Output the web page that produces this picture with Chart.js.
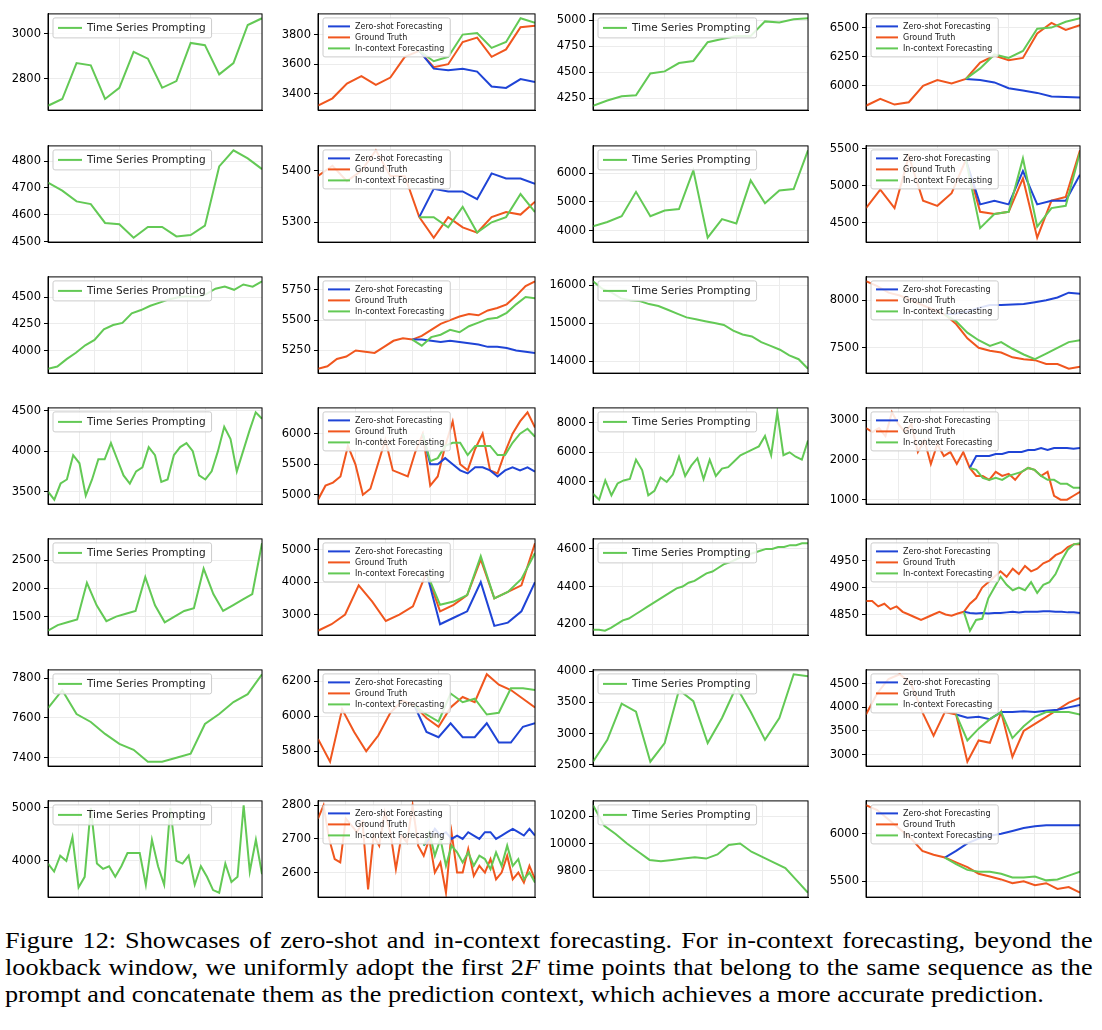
<!DOCTYPE html>
<html>
<head>
<meta charset="utf-8">
<script src="https://cdn.jsdelivr.net/npm/chart.js@4"></script>
<style>
  body { margin: 0; background: #fff; width: 1102px; height: 1030px; position: relative; overflow: hidden; }
  canvas { position: absolute; }
  #caption { position: absolute; left: 5px; top: 927px; width: 954px; font-family: "Liberation Serif", serif; font-size: 23px; line-height: 27px; color: #000; transform: scaleX(1.14); transform-origin: 0 0; }
  #caption div { text-align: justify; text-align-last: justify; white-space: nowrap; }
  #caption div.last { text-align-last: left; }
</style>
</head>
<body>
<div id="charts"></div>
<div id="caption">
  <div>Figure 12: Showcases of zero-shot and in-context forecasting. For in-context forecasting, beyond the</div>
  <div>lookback window, we uniformly adopt the first 2<i>F</i> time points that belong to the same sequence as the</div>
  <div class="last">prompt and concatenate them as the prediction context, which achieves a more accurate prediction.</div>
</div>
<script>
// ---- data: prompting panels (single green series) ----
const r1c1 = [2680, 2710, 2870, 2860, 2710, 2760, 2920, 2890, 2760, 2790, 2960, 2950, 2820, 2870, 3040, 3070];
const r1c3 = [4180, 4230, 4270, 4280, 4490, 4510, 4590, 4610, 4790, 4820, 4850, 4850, 4990, 4980, 5010, 5020];
const r2c1 = [4720, 4690, 4650, 4640, 4570, 4565, 4515, 4555, 4555, 4520, 4525, 4560, 4780, 4840, 4810, 4770];
const r2c3 = [4150, 4300, 4500, 5350, 4500, 4700, 4750, 6100, 3750, 4400, 4250, 5750, 4950, 5400, 5450, 6800];
const r3c1 = [3830, 3850, 3920, 3980, 4050, 4100, 4200, 4240, 4260, 4350, 4380, 4420, 4450, 4480, 4500, 4510, 4500, 4530, 4580, 4600, 4570, 4620, 4600, 4650];
const r3c3 = [16100, 15900, 15800, 15650, 15600, 15580, 15500, 15450, 15350, 15250, 15150, 15100, 15050, 15000, 14950, 14800, 14700, 14650, 14500, 14400, 14300, 14150, 14050, 13800];
const r4c1 = [3500, 3400, 3600, 3650, 3950, 3850, 3450, 3650, 3900, 3900, 4100, 3900, 3700, 3600, 3750, 3800, 4050, 3950, 3620, 3650, 3950, 4050, 4100, 4000, 3700, 3650, 3750, 4000, 4300, 4150, 3750, 4000, 4250, 4480, 4400];
const r4c3 = [3200, 2800, 4100, 3100, 3900, 4100, 4200, 5500, 4800, 3100, 3400, 4300, 4000, 4500, 5700, 4400, 5100, 5600, 4200, 5500, 4400, 4900, 5000, 5400, 5800, 6000, 6200, 6400, 7100, 5800, 8700, 5800, 6000, 5700, 5500, 6800];
const r5c1 = [1250, 1350, 1400, 1450, 2100, 1700, 1420, 1500, 1550, 1600, 2200, 1700, 1400, 1500, 1600, 1650, 2350, 1900, 1600, 1700, 1800, 1900, 2800];
const r5c3 = [4170, 4170, 4165, 4180, 4200, 4220, 4230, 4250, 4270, 4290, 4310, 4330, 4350, 4370, 4390, 4400, 4420, 4430, 4450, 4470, 4480, 4500, 4520, 4530, 4545, 4560, 4570, 4580, 4590, 4600, 4600, 4610, 4610, 4620, 4620, 4630, 4630];
const r6c1 = [7650, 7740, 7620, 7580, 7520, 7470, 7440, 7380, 7380, 7400, 7420, 7570, 7620, 7680, 7720, 7820];
const r6c3 = [2550, 2900, 3480, 3350, 2550, 2850, 3700, 3520, 2850, 3250, 3750, 3350, 2900, 3250, 3950, 3920];
const r7c1 = [3950, 3800, 4100, 4000, 4450, 3500, 3700, 5000, 3950, 3850, 3900, 3700, 3900, 4150, 4150, 4150, 3550, 4400, 3900, 3550, 5000, 4000, 3950, 4100, 3550, 3900, 3700, 3450, 3400, 3950, 3600, 3700, 5050, 3800, 4400, 3750];
const r7c3 = [10280, 10130, 10070, 10000, 9940, 9880, 9870, 9880, 9890, 9900, 9890, 9920, 9990, 10000, 9940, 9900, 9860, 9820, 9730, 9640];

// ---- data: forecasting panels (ground truth, zero-shot, in-context from start index) ----
const r1c2_gt = [3320, 3370, 3470, 3520, 3460, 3510, 3650, 3690, 3580, 3600, 3750, 3780, 3650, 3700, 3850, 3860];
const r1c2_zs = [3690, 3570, 3560, 3570, 3550, 3450, 3440, 3500, 3480];
const r1c2_ic = [3690, 3620, 3650, 3800, 3810, 3710, 3750, 3910, 3880];
const r1c2_start = 7;
const r1c4_gt = [5830, 5890, 5840, 5860, 6000, 6050, 6020, 6060, 6200, 6260, 6220, 6240, 6450, 6540, 6480, 6520];
const r1c4_zs = [6060, 6050, 6030, 5980, 5960, 5940, 5910, 5905, 5900];
const r1c4_ic = [6060, 6150, 6270, 6240, 6300, 6490, 6500, 6550, 6580];
const r1c4_start = 7;

const r2c2_gt = [5390, 5410, 5380, 5400, 5440, 5390, 5390, 5310, 5270, 5310, 5290, 5280, 5310, 5320, 5315, 5340];
const r2c2_zs = [5310, 5365, 5360, 5360, 5345, 5395, 5385, 5385, 5375];
const r2c2_ic = [5310, 5310, 5290, 5330, 5280, 5300, 5310, 5355, 5320];
const r2c2_start = 7;
const r2c4_gt = [4700, 4950, 4700, 5400, 4800, 4730, 4900, 5350, 4650, 4620, 4650, 5100, 4300, 4800, 4850, 5480];
const r2c4_zs = [5350, 4750, 4800, 4750, 5200, 4750, 4800, 4800, 5150];
const r2c4_ic = [5350, 4430, 4620, 4650, 5370, 4450, 4700, 4730, 5450];
const r2c4_start = 7;

const r3c2_gt = [5100, 5120, 5180, 5200, 5250, 5240, 5230, 5280, 5330, 5350, 5340, 5370, 5420, 5470, 5500, 5530, 5550, 5540, 5580, 5600, 5630, 5700, 5780, 5820];
const r3c2_zs = [5340, 5340, 5330, 5320, 5330, 5320, 5310, 5300, 5280, 5280, 5270, 5250, 5240, 5230];
const r3c2_ic = [5340, 5290, 5360, 5380, 5420, 5400, 5450, 5480, 5510, 5520, 5560, 5630, 5690, 5680];
const r3c2_start = 10;
const r3c4_gt = [8200, 8150, 8080, 8050, 8000, 7950, 7900, 7850, 7750, 7600, 7500, 7470, 7450, 7400, 7380, 7370, 7330, 7330, 7280, 7300];
const r3c4_zs = [7850, 7860, 7880, 7920, 7950, 7950, 7955, 7960, 7980, 8000, 8030, 8080, 8070];
const r3c4_ic = [7850, 7780, 7660, 7580, 7520, 7560, 7490, 7430, 7380, 7440, 7500, 7560, 7580];
const r3c4_start = 7;

const r4c2_gt = [4920, 5150, 5200, 5300, 5800, 5500, 5000, 5100, 5500, 5900, 5400, 5350, 5300, 5700, 6000, 5150, 5300, 5800, 6200, 5500, 5400, 5750, 6000, 5400, 5350, 5700, 6000, 6200, 6350, 6100];
const r4c2_zs = [6000, 5500, 5500, 5600, 5500, 5400, 5350, 5450, 5450, 5400, 5300, 5400, 5450, 5400, 5450, 5380];
const r4c2_ic = [6000, 5550, 5600, 5800, 5850, 5850, 5650, 5800, 5800, 5800, 5650, 5650, 5850, 6000, 6080, 5950];
const r4c2_start = 14;
const r4c4_gt = [2800, 2700, 2800, 2600, 3200, 2900, 2700, 2900, 2200, 2500, 1900, 2400, 2100, 2200, 1900, 2200, 1800, 1600, 1600, 1500, 1700, 1600, 1650, 1500, 1700, 1800, 1750, 1600, 1700, 1100, 1000, 1000, 1100, 1200];
const r4c4_zs = [1800, 2100, 2100, 2100, 2150, 2150, 2200, 2200, 2200, 2250, 2250, 2300, 2250, 2300, 2300, 2300, 2280, 2300];
const r4c4_ic = [1800, 1750, 1550, 1500, 1550, 1500, 1600, 1650, 1700, 1800, 1750, 1600, 1500, 1500, 1400, 1400, 1300, 1300];
const r4c4_start = 16;

const r5c2_gt = [2500, 2700, 3000, 3900, 3400, 2800, 3000, 3250, 4300, 3100, 3300, 3600, 4700, 3500, 3700, 3900, 5200];
const r5c2_zs = [4300, 2700, 2900, 3100, 4000, 2650, 2750, 3100, 4000];
const r5c2_ic = [4300, 3300, 3400, 3600, 4800, 3500, 3700, 4100, 4900];
const r5c2_start = 8;
const r5c4_gt = [4875, 4875, 4865, 4870, 4860, 4865, 4855, 4850, 4845, 4840, 4845, 4850, 4855, 4850, 4848, 4852, 4855, 4870, 4880, 4900, 4910, 4920, 4930, 4920, 4935, 4925, 4940, 4930, 4935, 4945, 4950, 4960, 4965, 4975, 4980, 4980];
const r5c4_zs = [4855, 4853, 4852, 4853, 4852, 4853, 4853, 4854, 4855, 4854, 4855, 4855, 4855, 4856, 4856, 4855, 4855, 4854, 4854, 4853];
const r5c4_ic = [4855, 4820, 4840, 4842, 4880, 4900, 4920, 4905, 4895, 4900, 4895, 4910, 4890, 4905, 4910, 4925, 4950, 4970, 4980, 4982];
const r5c4_start = 16;

const r6c2_gt = [5870, 5740, 6040, 5910, 5800, 5890, 6020, 6090, 6060, 5990, 5940, 6050, 6110, 6080, 6240, 6180, 6150, 6100, 6050];
const r6c2_zs = [6060, 5910, 5880, 5960, 5880, 5880, 5960, 5850, 5850, 5940, 5960];
const r6c2_ic = [6060, 6010, 5970, 6130, 6080, 6100, 6010, 6020, 6160, 6160, 6150];
const r6c2_start = 8;
const r6c4_gt = [3850, 4300, 4600, 4700, 4500, 3900, 3400, 3900, 3850, 2850, 3300, 3250, 3900, 2950, 3500, 3650, 3800, 3950, 4100, 4200];
const r6c4_zs = [3850, 3780, 3800, 3750, 3900, 3900, 3920, 3900, 3930, 3950, 4000, 4050];
const r6c4_ic = [3850, 3300, 3550, 3750, 3900, 3350, 3600, 3800, 3900, 3900, 3900, 3850];
const r6c4_start = 8;

const r7c2_gt = [2760, 2800, 2700, 2640, 2630, 2760, 2740, 2720, 2750, 2550, 2710, 2680, 2780, 2720, 2610, 2710, 2690, 2800, 2680, 2650, 2700, 2600, 2630, 2540, 2720, 2600, 2600, 2670, 2590, 2620, 2600, 2640, 2580, 2600, 2650, 2580, 2600, 2570, 2620, 2580];
const r7c2_zs = [2680, 2700, 2730, 2710, 2720, 2700, 2710, 2700, 2720, 2710, 2700, 2720, 2720, 2700, 2710, 2720, 2730, 2720, 2710, 2730, 2710];
const r7c2_ic = [2680, 2720, 2650, 2700, 2620, 2680, 2660, 2630, 2660, 2620, 2650, 2640, 2610, 2660, 2620, 2680, 2620, 2640, 2580, 2600, 2570];
const r7c2_start = 19;
const r7c4_gt = [6300, 6250, 6150, 6050, 5950, 5820, 5780, 5750, 5700, 5650, 5580, 5550, 5520, 5480, 5500, 5460, 5480, 5420, 5440, 5380];
const r7c4_zs = [5750, 5820, 5900, 5950, 5980, 6000, 6030, 6060, 6080, 6090, 6090, 6090, 6090];
const r7c4_ic = [5750, 5680, 5620, 5600, 5600, 5580, 5540, 5540, 5550, 5510, 5520, 5560, 5600];
const r7c4_start = 7;

// ---- tick labels per row ----
const ticks = [
  [[2800, 3000], [3400, 3600, 3800], [4250, 4500, 4750, 5000], [6000, 6250, 6500]],
  [[4500, 4600, 4700, 4800], [5300, 5400], [4000, 5000, 6000], [4500, 5000, 5500]],
  [[4000, 4250, 4500], [5250, 5500, 5750], [14000, 15000, 16000], [7500, 8000]],
  [[3500, 4000, 4500], [5000, 5500, 6000], [4000, 6000, 8000], [1000, 2000, 3000]],
  [[1500, 2000, 2500], [3000, 4000, 5000], [4200, 4400, 4600], [4850, 4900, 4950]],
  [[7400, 7600, 7800], [5800, 6000, 6200], [2500, 3000, 3500, 4000], [3000, 3500, 4000, 4500]],
  [[4000, 5000], [2600, 2700, 2800], [9800, 10000, 10200], [5500, 6000]],
];

const BLUE = "#1f44d6", ORANGE = "#f0561e", GREEN = "#63c955";
const colLeft = [2, 272, 547, 820];
const colWidth = [261, 264, 262, 261];
const rowTop = [8, 140, 271, 402, 533, 664, 795];
const plotH = 108;

const prompting = [r1c1, r1c3, r2c1, r2c3, r3c1, r3c3, r4c1, r4c3, r5c1, r5c3, r6c1, r6c3, r7c1, r7c3];
const forecasting = [
  [r1c2_gt, r1c2_zs, r1c2_ic, r1c2_start], [r1c4_gt, r1c4_zs, r1c4_ic, r1c4_start],
  [r2c2_gt, r2c2_zs, r2c2_ic, r2c2_start], [r2c4_gt, r2c4_zs, r2c4_ic, r2c4_start],
  [r3c2_gt, r3c2_zs, r3c2_ic, r3c2_start], [r3c4_gt, r3c4_zs, r3c4_ic, r3c4_start],
  [r4c2_gt, r4c2_zs, r4c2_ic, r4c2_start], [r4c4_gt, r4c4_zs, r4c4_ic, r4c4_start],
  [r5c2_gt, r5c2_zs, r5c2_ic, r5c2_start], [r5c4_gt, r5c4_zs, r5c4_ic, r5c4_start],
  [r6c2_gt, r6c2_zs, r6c2_ic, r6c2_start], [r6c4_gt, r6c4_zs, r6c4_ic, r6c4_start],
  [r7c2_gt, r7c2_zs, r7c2_ic, r7c2_start], [r7c4_gt, r7c4_zs, r7c4_ic, r7c4_start],
];

const pts = (arr, off) => arr.map((v, i) => ({ x: i + (off || 0), y: v }));

// legend box drawn inside the plot, top-left; order given by legendRank
const boxLegend = {
  id: "boxLegend",
  afterDraw(chart) {
    const { ctx, chartArea } = chart;
    const sets = chart.data.datasets
      .map((d) => ({ label: d.label, color: d.borderColor, rank: d.legendRank || 0 }))
      .sort((a, b) => a.rank - b.rank);
    const small = sets.length > 1;
    const fs = small ? 8 : 10.5;
    const rowH = small ? 11 : 14;
    ctx.save();
    ctx.font = `${fs}px "DejaVu Sans"`;
    const tw = Math.max(...sets.map((s) => ctx.measureText(s.label).width));
    const lineW = small ? 22 : 24;
    const x = chartArea.left + 5, y = chartArea.top + 4;
    const w = tw + lineW + 16, h = sets.length * rowH + 6;
    ctx.fillStyle = "rgba(255,255,255,0.85)";
    ctx.strokeStyle = "#ccc";
    ctx.lineWidth = 1;
    ctx.beginPath();
    ctx.roundRect(x, y, w, h, 2);
    ctx.fill();
    ctx.stroke();
    sets.forEach((s, i) => {
      const cy = y + 3 + rowH * i + rowH / 2;
      ctx.strokeStyle = s.color;
      ctx.lineWidth = 2;
      ctx.beginPath();
      ctx.moveTo(x + 5, cy);
      ctx.lineTo(x + 5 + lineW, cy);
      ctx.stroke();
      ctx.fillStyle = "#222";
      ctx.textBaseline = "middle";
      ctx.fillText(s.label, x + lineW + 10, cy + 0.5);
    });
    ctx.restore();
  },
};

function makeChart(row, col, datasets, yTicks, n) {
  const canvas = document.createElement("canvas");
  canvas.style.left = colLeft[col] + "px";
  canvas.style.top = rowTop[row] - 4 + "px";
  canvas.style.width = colWidth[col] + "px";
  canvas.style.height = plotH + 8 + "px";
  canvas.width = colWidth[col];
  canvas.height = plotH + 8;
  document.getElementById("charts").appendChild(canvas);
  const all = datasets.flatMap((d) => d.data.map((p) => p.y));
  const lo = Math.min(...all), hi = Math.max(...all), pad = (hi - lo) * 0.05;
  new Chart(canvas, {
    type: "line",
    data: { datasets },
    options: {
      responsive: false,
      animation: false,
      layout: { padding: { top: 4, bottom: 4, right: 1 } },
      plugins: { legend: { display: false }, tooltip: { enabled: false } },
      elements: { point: { radius: 0 }, line: { borderWidth: 2, tension: 0 } },
      scales: {
        x: {
          type: "linear", min: 0, max: n - 1,
          ticks: { display: false, stepSize: 5 },
          grid: { color: "#ececec", drawTicks: false },
          border: { color: "#000" },
        },
        y: {
          min: lo - pad, max: hi + pad,
          afterBuildTicks: (ax) => { ax.ticks = yTicks.map((v) => ({ value: v })); },
          afterFit: (ax) => { ax.width = 46; },
          ticks: { color: "#000", font: { family: "DejaVu Sans", size: 11.5 }, padding: 3, callback: (v) => String(v) },
          grid: { color: "#ececec", tickColor: "#000", tickLength: 4 },
          border: { color: "#000" },
        },
      },
    },
    plugins: [boxLegend, {
      id: "frame",
      afterDraw(c) {
        const a = c.chartArea, g = c.ctx;
        g.save(); g.strokeStyle = "#000"; g.lineWidth = 1;
        g.strokeRect(a.left, a.top, a.right - a.left, a.bottom - a.top);
        g.restore();
      },
    }],
  });
}

for (let r = 0; r < 7; r++) {
  for (let k = 0; k < 2; k++) {
    const series = prompting[r * 2 + k];
    makeChart(r, k * 2, [{ label: "Time Series Prompting", data: pts(series), borderColor: GREEN }], ticks[r][k * 2], series.length);
    const [gt, zs, ic, start] = forecasting[r * 2 + k];
    makeChart(r, k * 2 + 1, [
      { label: "Ground Truth", data: pts(gt), borderColor: ORANGE, order: 3, legendRank: 2 },
      { label: "Zero-shot Forecasting", data: pts(zs, start), borderColor: BLUE, order: 2, legendRank: 1 },
      { label: "In-context Forecasting", data: pts(ic, start), borderColor: GREEN, order: 1, legendRank: 3 },
    ], ticks[r][k * 2 + 1], gt.length);
  }
}
</script>
</body>
</html>
